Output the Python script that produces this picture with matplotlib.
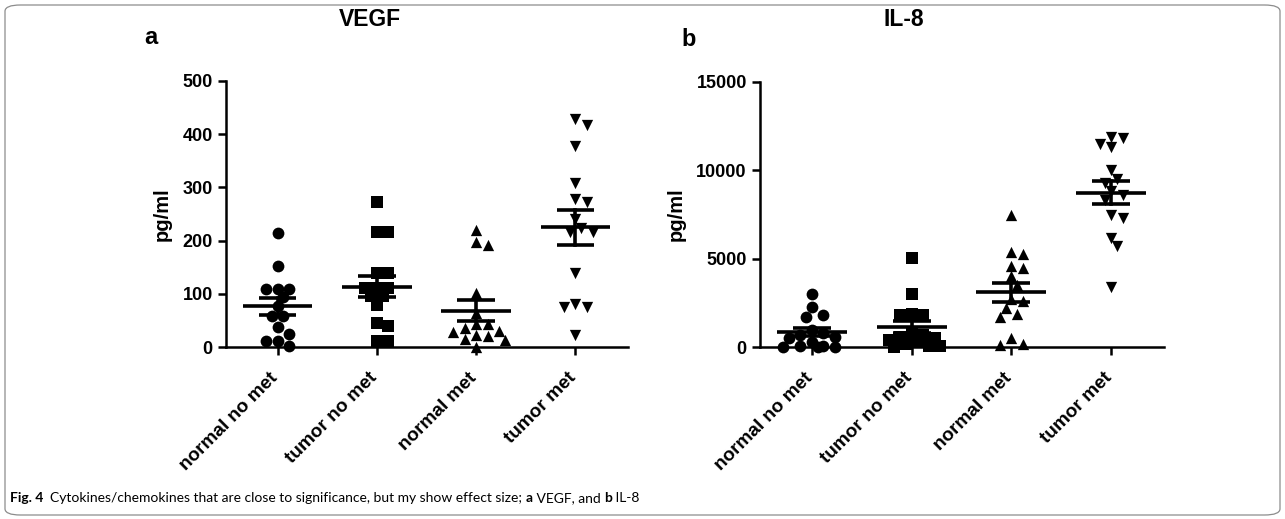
import numpy as np
import matplotlib
matplotlib.use("Agg")
import matplotlib.pyplot as plt
from matplotlib.patches import FancyBboxPatch
from matplotlib.transforms import ScaledTranslation

plt.rcParams['font.family'] = ['Liberation Sans', 'DejaVu Sans']

categories = ["normal no met", "tumor no met", "normal met", "tumor met"]
markers = ["o", "s", "^", "v"]

vegf_normal_no_met = [215, 152, 110, 110, 110, 94, 77, 59, 59, 39, 25, 11, 11, 2]
vegf_tumor_no_met = [273, 217, 217, 140, 140, 112, 112, 112, 96, 96, 79, 45, 40, 11, 11]
vegf_normal_met = [220, 198, 192, 101, 64, 43, 43, 36, 31, 29, 24, 22, 16, 14, 0]
vegf_tumor_met = [428, 417, 378, 308, 279, 273, 241, 224, 217, 217, 139, 81, 76, 76, 23]

il8_normal_no_met = [2990, 2260, 1820, 1730, 1000, 800, 700, 600, 500, 300, 100, 50, 20, 0, 0]
il8_tumor_no_met = [5050, 3010, 1880, 1820, 1820, 600, 800, 700, 500, 400, 300, 200, 100, 50, 0]
il8_normal_met = [7450, 5400, 5250, 4600, 4500, 4000, 3500, 2700, 2600, 2200, 1900, 1700, 500, 200, 150]
il8_tumor_met = [11900, 11800, 11500, 11300, 10000, 9500, 9300, 8800, 8600, 8300, 7300, 7500, 6200, 5700, 3400]

vegf_groups = [vegf_normal_no_met, vegf_tumor_no_met, vegf_normal_met, vegf_tumor_met]
il8_groups = [il8_normal_no_met, il8_tumor_no_met, il8_normal_met, il8_tumor_met]

W, H = 1285, 519
fig = plt.figure(figsize=(W / 100, H / 100), dpi=100)

def px_axes(l, t, r, b):
    return [l / W, 1 - b / H, (r - l) / W, (b - t) / H]

ax1 = fig.add_axes(px_axes(226, 80.7, 628, 347.3))
ax2 = fig.add_axes(px_axes(760, 81.7, 1164, 347.3))

def swarm(ax, vals, xc, diam_px):
    # simple beeswarm layout in pixel space, allowing slight overlap
    vals = np.asarray(vals, float)
    order = np.argsort(-vals)
    trans = ax.transData
    placed = []
    xs = np.zeros(len(vals))
    x0_px = trans.transform((xc, 0))[0]
    ppu = trans.transform((xc + 1, 0))[0] - x0_px
    cands = [0.0]
    for s in range(1, 6):
        cands += [s * 0.5, -s * 0.5]
    for i in order:
        ypx = trans.transform((xc, vals[i]))[1]
        best, bestd = None, -1
        chosen = None
        for c in cands:
            xp = x0_px + c * diam_px
            dmin = min([np.hypot(xp - px, ypx - py) for px, py in placed] + [1e9])
            if dmin >= 0.85 * diam_px:
                chosen = c
                break
            if dmin > bestd:
                best, bestd = c, dmin
        if chosen is None:
            chosen = best
        xp = x0_px + chosen * diam_px
        placed.append((xp, ypx))
        xs[i] = xc + chosen * diam_px / ppu
    return xs, vals

def draw(ax, groups, ymax, ystep):
    ax.set_xlim(-0.52, 3.53)
    ax.set_ylim(0, ymax)
    for sp in ['top', 'right']:
        ax.spines[sp].set_visible(False)
    for sp in ['left', 'bottom']:
        ax.spines[sp].set_linewidth(1.8)
    ax.set_yticks(np.arange(0, ymax + 1, ystep))
    ax.set_xticks(range(4))
    ax.set_xticklabels(categories, rotation=45, ha='right', va='top',
                       rotation_mode='anchor', fontsize=13.7, fontweight='bold')
    ax.tick_params(axis='both', width=1.8, length=6, labelsize=13)
    ax.tick_params(axis='x', pad=7, labelsize=13.7)
    shift = ScaledTranslation(-0.08, -0.04, fig.dpi_scale_trans)
    for lab in ax.get_xticklabels():
        lab.set_transform(lab.get_transform() + shift)
    for lab in ax.get_yticklabels():
        lab.set_fontweight('bold')
    ax.set_ylabel('pg/ml', fontsize=14.5, fontweight='bold')
    for i, g in enumerate(groups):
        xs, ys = swarm(ax, g, i, 11.5)
        ax.scatter(xs, ys, marker=markers[i], s=66 if markers[i] != 'o' else 72,
                   color='black', zorder=5, clip_on=False, linewidths=0)
        arr = np.asarray(g, float)
        m = arr.mean()
        se = arr.std(ddof=1) / np.sqrt(len(arr))
        ax.plot([i - 0.35, i + 0.35], [m, m], color='black', lw=2.6, zorder=6, solid_capstyle='butt')
        ax.plot([i, i], [m - se, m + se], color='black', lw=2.6, zorder=6)
        ax.plot([i - 0.19, i + 0.19], [m + se, m + se], color='black', lw=2.6, zorder=6, solid_capstyle='butt')
        ax.plot([i - 0.19, i + 0.19], [m - se, m - se], color='black', lw=2.6, zorder=6, solid_capstyle='butt')

fig.canvas.draw()
draw(ax1, vegf_groups, 500, 100)
draw(ax2, il8_groups, 15000, 5000)
ax1.yaxis.set_label_coords((171.7 - 226) / 402, 0.5)
ax2.yaxis.set_label_coords((686 - 760) / 404, 0.5)

fig.text(370 / W, 1 - 20 / H, 'VEGF', ha='center', va='center', fontsize=16.5, fontweight='bold')
fig.text(904 / W, 1 - 20 / H, 'IL-8', ha='center', va='center', fontsize=16.5, fontweight='bold')
fig.text(151 / W, 1 - 38 / H, 'a', ha='center', va='center', fontsize=17, fontweight='bold')
fig.text(689 / W, 1 - 40 / H, 'b', ha='center', va='center', fontsize=17, fontweight='bold')

cap_y = 1 - 498 / H
capfont = ['Lato', 'DejaVu Sans']
t = fig.text(10 / W, cap_y, 'Fig. 4', ha='left', va='center', fontsize=10, fontweight='bold', family=capfont)
fig.canvas.draw()
r = fig.canvas.get_renderer()
parts = [("  Cytokines/chemokines that are close to significance, but my show effect size; ", 'normal'),
         ("a", 'bold'), (" VEGF, and ", 'normal'), ("b", 'bold'), (" IL-8", 'normal')]
prev = t
for txt, wt in parts:
    bb = prev.get_window_extent(r)
    prev = fig.text(bb.x1 / W, cap_y, txt, ha='left', va='center', fontsize=10, fontweight=wt, family=capfont)
    fig.canvas.draw()

box = FancyBboxPatch((5 / W, 4 / H), (W - 10) / W, (H - 9) / H,
                     boxstyle='round,pad=0,rounding_size=0.012', transform=fig.transFigure,
                     fill=False, edgecolor='#8c8c8c', linewidth=0.9)
fig.patches.append(box)

fig.savefig('out.png', dpi=100)
